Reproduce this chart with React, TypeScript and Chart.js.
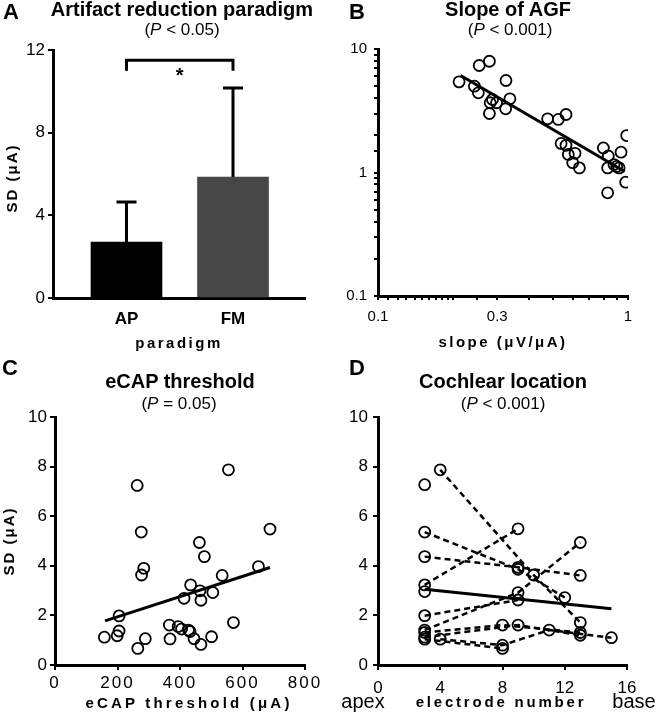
import React, { useEffect, useRef } from 'react';
import { Chart, registerables } from 'chart.js';
Chart.register(...registerables);

const FONT = '"Liberation Sans", Arial, Helvetica, sans-serif';

// ---------- Panel A: artifact reduction paradigm ----------
const paradigmCategories = ['AP', 'FM'];
const paradigmMeanSD = [2.71, 5.85];
const paradigmSDofSD = [1.94, 4.31];
const bracketTop = 11.5;
const bracketFoot = 11.0;
const asteriskLevel = 10.7;

// ---------- Panel B: slope of AGF (log-log) ----------
const agfSlope = [0.211, 0.254, 0.279, 0.243, 0.252, 0.325, 0.287, 0.281, 0.298, 0.337, 0.279, 0.324, 0.477, 0.526, 0.565, 0.54, 0.565, 0.577, 0.614, 0.601, 0.639, 0.797, 0.834, 0.938, 0.988, 0.829, 0.879, 0.901, 0.921, 0.979, 0.829];
const agfSD = [5.42, 7.35, 7.96, 5.0, 4.42, 5.56, 3.9, 3.67, 3.67, 3.95, 3.0, 3.28, 2.72, 2.69, 2.95, 1.72, 1.66, 1.4, 1.43, 1.2, 1.09, 1.58, 1.36, 1.46, 1.99, 1.09, 1.16, 1.12, 1.09, 0.835, 0.685];
const agfFitSlope = [0.214, 0.97];
const agfFitSD = [6.1, 1.02];
const agfXTickLabels = [0.1, 0.3, 1];
const agfYTickLabels = [0.1, 1, 10];

// ---------- Panel C: eCAP threshold ----------
const ecapThreshold = [158, 199, 205, 205, 263, 276, 284, 277, 265, 289, 366, 368, 394, 405, 427, 432, 445, 467, 501, 413, 434, 464, 467, 505, 462, 478, 535, 555, 571, 651, 688];
const ecapSD = [1.12, 1.18, 1.37, 1.98, 7.24, 5.36, 3.9, 3.63, 0.67, 1.06, 1.61, 1.05, 1.55, 1.45, 1.41, 1.35, 1.06, 0.83, 1.14, 2.69, 3.23, 2.99, 2.61, 2.92, 4.94, 4.37, 3.61, 7.87, 1.71, 3.97, 5.48];
const ecapFitX = [160, 688];
const ecapFitSD = [1.78, 3.93];

// ---------- Panel D: cochlear location ----------
const subjectElectrodes = [
  [4, 10, 13],
  [3, 9, 12],
  [3, 9, 13],
  [3, 9],
  [3, 9, 13],
  [3, 9],
  [3, 8, 13],
  [3, 9, 13],
  [4, 8, 11, 15],
  [3, 8],
];
const subjectSD = [
  [7.87, 3.63, 1.71],
  [5.36, 3.86, 2.72],
  [4.37, 3.94, 3.61],
  [3.23, 5.49],
  [1.41, 2.92, 4.94],
  [1.99, 2.62],
  [1.31, 1.61, 1.31],
  [1.12, 1.61, 1.2],
  [1.04, 0.8, 1.41, 1.1],
  [1.04, 0.67],
];
const unpairedElectrodes = [3, 3];
const unpairedSD = [7.27, 2.96];
const locationFitX = [3, 15];
const locationFitSD = [3.05, 2.27];

// ---------- helpers ----------
const tickFont = (size: number, bold = false) => ({ family: FONT, size, weight: bold ? 'bold' : 'normal' });

function axisStyle(o: any) {
  const { tickLength = 5, drawTicks = true, size = 16, bold = false, padding = 4, fit, isX } = o;
  const ax: any = {
    offset: false,
    grid: { display: true, offset: false, drawOnChartArea: false, drawTicks, tickLength, color: '#000', lineWidth: 2 },
    border: { display: true, color: '#000', width: 3 },
    ticks: { color: '#000', font: tickFont(size, bold), padding, autoSkip: false, maxRotation: 0, minRotation: 0 },
  };
  if (isX) ax.afterFit = (s: any) => { s.height = fit; };
  else ax.afterFit = (s: any) => { s.width = fit; };
  return ax;
}

const baseOptions = (padding: any) => ({
  animation: false,
  responsive: false,
  events: [],
  layout: { padding },
  plugins: { legend: { display: false }, tooltip: { enabled: false }, title: { display: false } },
});

const circle = {
  pointRadius: 5.5,
  pointBorderWidth: 1.8,
  pointBorderColor: '#000',
  pointBackgroundColor: 'rgba(0,0,0,0)',
  pointStyle: 'circle',
};

const paradigmAnnotations = {
  id: 'paradigmAnnotations',
  afterDatasetsDraw(chart: any) {
    const { ctx, scales } = chart;
    const x = scales.x, y = scales.y;
    ctx.save();
    ctx.strokeStyle = '#000';
    ctx.lineWidth = 3;
    paradigmMeanSD.forEach((m, i) => {
      const px = x.getPixelForValue(i);
      const top = y.getPixelForValue(m + paradigmSDofSD[i]);
      const base = y.getPixelForValue(m);
      ctx.beginPath();
      ctx.moveTo(px, base);
      ctx.lineTo(px, top);
      ctx.moveTo(px - 10, top);
      ctx.lineTo(px + 10, top);
      ctx.stroke();
    });
    const x0 = x.getPixelForValue(0), x1 = x.getPixelForValue(1);
    const yt = y.getPixelForValue(bracketTop), yf = y.getPixelForValue(bracketFoot);
    ctx.beginPath();
    ctx.moveTo(x0, yf);
    ctx.lineTo(x0, yt);
    ctx.lineTo(x1, yt);
    ctx.lineTo(x1, yf);
    ctx.stroke();
    ctx.fillStyle = '#000';
    ctx.font = `bold 20px ${FONT}`;
    ctx.textAlign = 'center';
    ctx.textBaseline = 'middle';
    ctx.fillText('*', (x0 + x1) / 2, y.getPixelForValue(asteriskLevel));
    ctx.restore();
  },
};

const near = (list: number[], v: number) => list.some((t) => Math.abs(t - v) < 1e-6 * Math.max(1, t));

function configA(): any {
  const x = axisStyle({ isX: true, fit: 30, drawTicks: false, size: 17, bold: true, padding: 11 });
  x.type = 'linear';
  x.min = -0.69;
  x.max = 1.676;
  x.afterBuildTicks = (s: any) => { s.ticks = paradigmCategories.map((_, i) => ({ value: i })); };
  x.ticks.callback = (v: number) => paradigmCategories[v] ?? '';
  const y = axisStyle({ fit: 50, size: 17, padding: 3 });
  y.min = 0; y.max = 12; y.ticks.stepSize = 4;
  return {
    type: 'bar',
    data: {
      datasets: [{
        data: paradigmMeanSD.map((v, i) => ({ x: i, y: v })),
        backgroundColor: ['#000000', '#474747'],
        borderWidth: 0,
        barThickness: 71,
        grouped: false,
      }],
    },
    options: { ...baseOptions({ left: 3, top: 50, right: 28, bottom: 33 }), scales: { x, y } },
    plugins: [paradigmAnnotations],
  };
}

function configB(): any {
  const x = axisStyle({ isX: true, fit: 30, size: 15, padding: 8, tickLength: 4 });
  x.type = 'logarithmic'; x.min = 0.1; x.max = 1;
  x.ticks.callback = (v: number) => (near(agfXTickLabels, v) ? String(+v.toPrecision(3)) : '');
  const y = axisStyle({ fit: 40, size: 15, padding: 7, tickLength: 4 });
  y.type = 'logarithmic'; y.min = 0.1; y.max = 10;
  y.ticks.callback = (v: number) => (near(agfYTickLabels, v) ? String(+v.toPrecision(3)) : '');
  return {
    type: 'scatter',
    data: {
      datasets: [
        { data: agfSlope.map((v, i) => ({ x: v, y: agfSD[i] })), ...circle, showLine: false },
        { data: agfFitSlope.map((v, i) => ({ x: v, y: agfFitSD[i] })), showLine: true, borderColor: '#000', borderWidth: 3, pointRadius: 0 },
      ],
    },
    options: { ...baseOptions({ left: 5, top: 49, right: 38, bottom: 35 }), scales: { x, y } },
  };
}

function configC(): any {
  const x = axisStyle({ isX: true, fit: 30, size: 17, padding: 3 });
  x.min = 0; x.max = 800; x.ticks.stepSize = 200;
  const y = axisStyle({ fit: 50, size: 17, padding: 3 });
  y.min = 0; y.max = 10; y.ticks.stepSize = 2;
  return {
    type: 'scatter',
    data: {
      datasets: [
        { data: ecapThreshold.map((v, i) => ({ x: v, y: ecapSD[i] })), ...circle, showLine: false },
        { data: ecapFitX.map((v, i) => ({ x: v, y: ecapFitSD[i] })), showLine: true, borderColor: '#000', borderWidth: 3, pointRadius: 0 },
      ],
    },
    options: { ...baseOptions({ left: 5, top: 56, right: 28, bottom: 28 }), scales: { x, y } },
  };
}

function configD(): any {
  const x = axisStyle({ isX: true, fit: 30, size: 17, padding: 8 });
  x.min = 0; x.max = 16; x.ticks.stepSize = 4;
  const y = axisStyle({ fit: 40, size: 17, padding: 5 });
  y.min = 0; y.max = 10; y.ticks.stepSize = 2;
  const subjects = subjectElectrodes.map((els, s) => ({
    data: els.map((e, k) => ({ x: e, y: subjectSD[s][k] })),
    showLine: true,
    borderColor: '#000',
    borderWidth: 2.5,
    borderDash: [6, 4],
    ...circle,
  }));
  return {
    type: 'scatter',
    data: {
      datasets: [
        ...subjects,
        { data: unpairedElectrodes.map((e, i) => ({ x: e, y: unpairedSD[i] })), showLine: false, ...circle },
        { data: locationFitX.map((v, i) => ({ x: v, y: locationFitSD[i] })), showLine: true, borderColor: '#000', borderWidth: 3, pointRadius: 0 },
      ],
    },
    options: { ...baseOptions({ left: 5, top: 56, right: 39, bottom: 28 }), scales: { x, y } },
  };
}

function spaceXLabels(chart: any, spacing: string) {
  const xs = chart.scales.x;
  const orig = xs.drawLabels.bind(xs);
  xs.drawLabels = (area: any) => {
    const ctx = chart.ctx;
    ctx.save();
    ctx.letterSpacing = spacing;
    orig(area);
    ctx.restore();
  };
  chart.draw();
}

type TxtProps = { x: number; y: number; size: number; bold?: boolean; spacing?: number; rotate?: boolean; children: React.ReactNode };
function Txt({ x, y, size, bold, spacing, rotate, children }: TxtProps) {
  return (
    <div
      style={{
        position: 'absolute',
        left: x,
        top: y,
        transform: `translate(-50%, -50%)${rotate ? ' rotate(-90deg)' : ''}`,
        fontSize: size,
        fontWeight: bold ? 'bold' : 'normal',
        letterSpacing: spacing ? `${spacing}px` : undefined,
        lineHeight: 1,
        whiteSpace: 'nowrap',
        fontFamily: FONT,
        color: '#000',
      }}
    >
      {children}
    </div>
  );
}

export default function App() {
  const refA = useRef<HTMLCanvasElement>(null);
  const refB = useRef<HTMLCanvasElement>(null);
  const refC = useRef<HTMLCanvasElement>(null);
  const refD = useRef<HTMLCanvasElement>(null);

  useEffect(() => {
    const a = new Chart(refA.current as HTMLCanvasElement, configA());
    const b = new Chart(refB.current as HTMLCanvasElement, configB());
    const c = new Chart(refC.current as HTMLCanvasElement, configC());
    const d = new Chart(refD.current as HTMLCanvasElement, configD());
    spaceXLabels(c, '2px');
    return () => {
      a.destroy();
      b.destroy();
      c.destroy();
      d.destroy();
    };
  }, []);

  return (
    <div style={{ position: 'absolute', left: 0, top: 0, width: 666, height: 723, background: '#fff', overflow: 'hidden' }}>
      <canvas ref={refA} width={333} height={361} style={{ position: 'absolute', left: 0, top: 0 }} />
      <canvas ref={refB} width={333} height={361} style={{ position: 'absolute', left: 333, top: 0 }} />
      <canvas ref={refC} width={333} height={362} style={{ position: 'absolute', left: 0, top: 361 }} />
      <canvas ref={refD} width={333} height={362} style={{ position: 'absolute', left: 333, top: 361 }} />

      <Txt x={11} y={12} size={22} bold>A</Txt>
      <Txt x={357} y={12} size={22} bold>B</Txt>
      <Txt x={10} y={368} size={22} bold>C</Txt>
      <Txt x={357} y={368} size={22} bold>D</Txt>

      <Txt x={182} y={9} size={20} bold>Artifact reduction paradigm</Txt>
      <Txt x={182} y={29} size={17}>(<i>P</i> &lt; 0.05)</Txt>
      <Txt x={508} y={9} size={20} bold>Slope of AGF</Txt>
      <Txt x={510} y={29} size={17}>(<i>P</i> &lt; 0.001)</Txt>
      <Txt x={180} y={381} size={20} bold>eCAP threshold</Txt>
      <Txt x={179} y={403} size={17}>(<i>P</i> = 0.05)</Txt>
      <Txt x={503} y={381} size={20} bold>Cochlear location</Txt>
      <Txt x={503} y={403} size={17}>(<i>P</i> &lt; 0.001)</Txt>

      <Txt x={11} y={178} size={15} bold spacing={2} rotate>SD (μA)</Txt>
      <Txt x={8} y={541} size={15} bold spacing={2} rotate>SD (μA)</Txt>
      <Txt x={179} y={342} size={15} bold spacing={2.5}>paradigm</Txt>
      <Txt x={503} y={341} size={15} bold spacing={2.5}>slope (μV/μA)</Txt>
      <Txt x={189} y={702} size={15} bold spacing={3.2}>eCAP threshold (μA)</Txt>
      <Txt x={501} y={701} size={15} bold spacing={2.8}>electrode number</Txt>
      <Txt x={363} y={701} size={20}>apex</Txt>
      <Txt x={634} y={701} size={20}>base</Txt>
    </div>
  );
}
